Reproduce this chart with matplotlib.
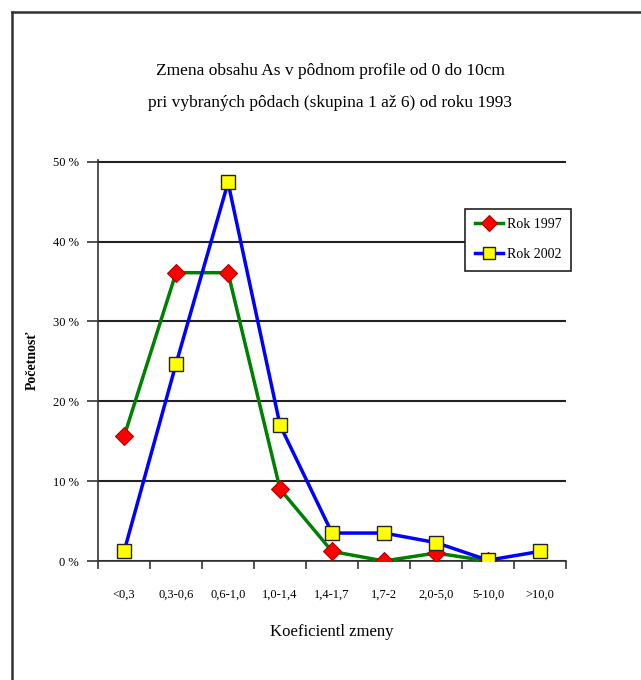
import numpy as np
import matplotlib
matplotlib.use('Agg')
import matplotlib.pyplot as plt
from matplotlib.lines import Line2D

# data (percent)
categories = ['<0,3', '0,3-0,6', '0,6-1,0', '1,0-1,4', '1,4-1,7',
              '1,7-2', '2,0-5,0', '5-10,0', '>10,0']
rok_1997 = [15.6, 36.1, 36.1, 9.0, 1.2, 0.0, 1.0, 0.0, np.nan]
rok_2002 = [1.2, 24.7, 47.4, 17.0, 3.5, 3.5, 2.3, 0.1, 1.2]
y_ticks = [0, 10, 20, 30, 40, 50]

plt.rcParams['font.family'] = ['Liberation Serif', 'DejaVu Serif']

fig = plt.figure(figsize=(6.41, 6.80), dpi=100)
ax = fig.add_axes([0.153, 0.175, 0.730, 0.589])

x = np.arange(len(categories))
ax.plot(x, rok_1997, color='#008000', lw=2.5, marker='D', ms=9,
        mfc='#ff0000', mec='#b00000', mew=0.8, label='Rok 1997', zorder=3)
ax.plot(x, rok_2002, color='#0000ff', lw=2.5, marker='s', ms=10,
        mfc='#ffff00', mec='#222222', mew=1.0, label='Rok 2002', zorder=4)

ax.set_xlim(-0.5, len(categories) - 0.5)
ax.set_ylim(0, 50.15)
ax.set_yticks(y_ticks)
ax.set_yticklabels(['%d %%' % v for v in y_ticks], fontsize=9)
ax.set_xticks(x)
ax.set_xticklabels(categories, fontsize=9)
ax.set_xticks(np.arange(len(categories) + 1) - 0.5, minor=True)
ax.tick_params(axis='x', which='major', length=0, pad=20)
ax.tick_params(axis='x', which='minor', length=6, width=1.2, color='#333333')
ax.tick_params(axis='y', length=8, width=1.2, color='#333333', pad=6)
ax.yaxis.grid(True, color='#222222', lw=1.5)
ax.set_axisbelow(True)

for s in ['top', 'right']:
    ax.spines[s].set_visible(False)
for s in ['left', 'bottom']:
    ax.spines[s].set_color('#333333')
    ax.spines[s].set_linewidth(1.2)

ax.set_xlabel('Koeficientl zmeny', fontsize=12, labelpad=17)
ax.set_ylabel('Početnosť', fontsize=10, fontweight='bold', labelpad=10)

fig.text(0.515, 0.895, 'Zmena obsahu As v pôdnom profile od 0 do 10cm',
         ha='center', va='center', fontsize=12.5)
fig.text(0.515, 0.848, 'pri vybraných pôdach (skupina 1 až 6) od roku 1993',
         ha='center', va='center', fontsize=12.5)

leg = ax.legend(loc='upper left', bbox_to_anchor=(0.785, 0.88), fontsize=10,
                frameon=True, fancybox=False, edgecolor='#222222',
                framealpha=1.0, handlelength=2.0, handletextpad=0.3,
                borderpad=0.7, labelspacing=1.2, borderaxespad=0,
                markerscale=0.9)
leg.get_frame().set_linewidth(1.2)

# outer frame: only top and left edges visible
fig.add_artist(Line2D([12 / 641, 1], [1 - 12 / 680, 1 - 12 / 680],
                      transform=fig.transFigure, color='#333333', lw=1.8))
fig.add_artist(Line2D([12 / 641, 12 / 641], [0, 1 - 12 / 680],
                      transform=fig.transFigure, color='#333333', lw=1.8))

fig.savefig('out.png', dpi=100)
